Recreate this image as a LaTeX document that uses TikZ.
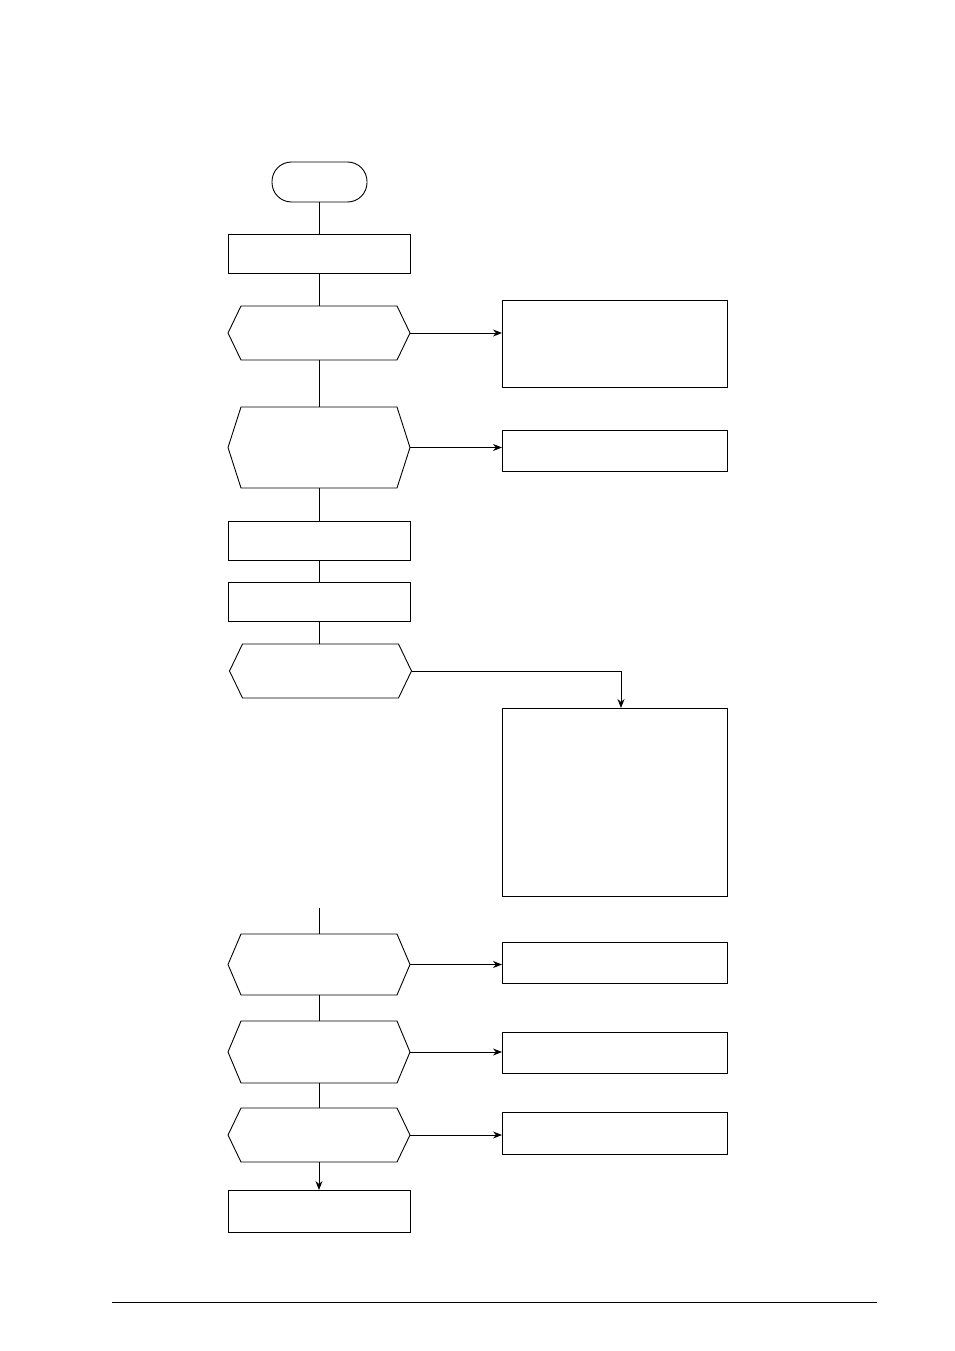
\documentclass[tikz,border=0pt]{standalone}
\usetikzlibrary{calc,arrows.meta}
\tikzset{
  line/.style={line width=0.9pt, draw=black},
  arr/.style={line, -{Stealth[length=9pt,width=7pt]}},
  lbox/.style={draw, line width=0.9pt, minimum width=182pt, minimum height=39pt, inner sep=0pt, outer sep=0pt},
  rbox/.style={draw, line width=0.9pt, minimum width=225pt, minimum height=41pt, inner sep=0pt, outer sep=0pt},
  hexbox/.style={inner sep=0pt, outer sep=0pt, minimum width=182pt},
  term/.style={draw, line width=0.9pt, rounded corners=19.5pt, minimum width=95pt, minimum height=40pt, inner sep=0pt, outer sep=0pt}
}
\newcommand\hexshape[4]{%
  \node[hexbox, minimum height=#4pt] (#1) at (#2,#3) {};
  \draw[line] ($(#1.north west)+(13,0)$) -- ($(#1.north east)+(-13,0)$) -- (#1.east) -- ($(#1.south east)+(-13,0)$) -- ($(#1.south west)+(13,0)$) -- (#1.west) -- cycle;}
\begin{document}
\begin{tikzpicture}[x=1pt,y=-1pt]
\useasboundingbox (0,0) rectangle (954,1351);
% left column
\node[term] (t) at (319.5,182) {};
\node[lbox] (b1) at (319,253.5) {};
\hexshape{h1}{319}{333}{54}
\hexshape{h2}{319}{447.5}{81}
\node[lbox] (b2) at (319,540.5) {};
\node[lbox] (b3) at (319,601.5) {};
\hexshape{h3}{320.5}{671}{54}
\hexshape{h4}{319}{964.5}{61}
\hexshape{h5}{319}{1052}{62}
\hexshape{h6}{319}{1135}{54}
\node[lbox, minimum height=42pt] (b4) at (319,1211) {};
% right column
\node[rbox, minimum height=87pt] (r1) at (614.5,343.5) {};
\node[rbox] (r2) at (614.5,450.5) {};
\node[rbox, minimum height=188pt] (r3) at (614.5,802) {};
\node[rbox] (r4) at (614.5,962.5) {};
\node[rbox] (r5) at (614.5,1052.5) {};
\node[rbox, minimum height=42pt] (r6) at (614.5,1133) {};
% connectors
\draw[line] (t.south) -- (t.south |- b1.north);
\draw[line] (b1) -- (h1);
\draw[line] (h1) -- (h2);
\draw[line] (h2) -- (b2);
\draw[line] (b2) -- (b3);
\draw[line] (b3.south) -- (b3.south |- h3.north);
\coordinate (c4) at (319,908);
\draw[line] (c4) -- (h4);
\draw[line] (h4) -- (h5);
\draw[line] (h5) -- (h6);
\draw[arr] (h6) -- (b4);
\draw[arr] (h1.east) -- (h1.east -| r1.west);
\draw[arr] (h2.east) -- (h2.east -| r2.west);
\coordinate (r3in) at ($(r3.north west)+(119,0)$);
\draw[arr] (h3.east) -| (r3in);
\draw[arr] (h4.east) -- (h4.east -| r4.west);
\draw[arr] (h5.east) -- (h5.east -| r5.west);
\draw[arr] (h6.east) -- (h6.east -| r6.west);
% page rule
\coordinate (ruleL) at (112,1302);
\coordinate (ruleR) at (877,1302);
\draw[line width=0.8pt] (ruleL) -- (ruleR);
\end{tikzpicture}
\end{document}
